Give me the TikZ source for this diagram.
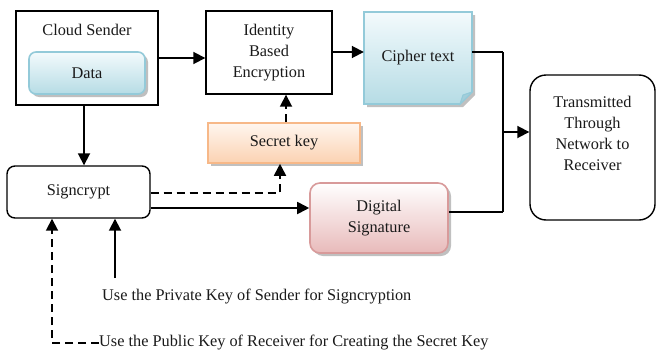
\documentclass[tikz,border=0pt]{standalone}
\usepackage{fontspec}
\setmainfont{Liberation Serif}
\usetikzlibrary{arrows.meta,shadows}

\definecolor{dataline}{HTML}{93CAD9}
\definecolor{datahi}{HTML}{F3FAFC}
\definecolor{datalo}{HTML}{B6DCE5}
\definecolor{cipherfold}{HTML}{A3CEDA}
\definecolor{keyline}{HTML}{F7B888}
\definecolor{keyhi}{HTML}{FFF6EF}
\definecolor{keylo}{HTML}{FBD2B2}
\definecolor{sigline}{HTML}{D89A9A}
\definecolor{sighi}{HTML}{FFFFFF}
\definecolor{siglo}{HTML}{E8BABA}
\definecolor{inkcol}{HTML}{1A1A1A}

\begin{document}
\begin{tikzpicture}[x=1pt,y=-1pt,
  font=\rmfamily\fontsize{16.3}{21}\selectfont, text=inkcol,
  boxshadow/.style={drop shadow={shadow xshift=3pt, shadow yshift=-3pt, fill=black!45, opacity=0.55}},
  plainbox/.style={draw=black, line width=1.4pt, fill=white, inner sep=0pt},
  databox/.style={draw=dataline, line width=1.6pt, rounded corners=7pt,
    top color=datahi, bottom color=datalo, boxshadow, inner sep=0pt},
  keybox/.style={draw=keyline, line width=1.6pt,
    top color=keyhi, bottom color=keylo, boxshadow, inner sep=0pt},
  sigbox/.style={draw=sigline, line width=1.6pt, rounded corners=10pt,
    top color=sighi, bottom color=siglo, boxshadow, inner sep=0pt, align=center},
  roundbox/.style={draw=black, line width=1.4pt, fill=white, inner sep=0pt},
  arr/.style={-{Triangle[length=12pt,width=12pt]}, line width=1.8pt},
  dasharr/.style={arr, dash pattern=on 8pt off 5pt},
  wire/.style={line width=1.8pt}]

\useasboundingbox (0,0) rectangle (658,356);

% Sender side
\node[plainbox, minimum width=142pt, minimum height=94pt] (cloud) at (87,58) {};
\node (cloudlbl) at (87,30) {Cloud Sender};
\node[databox, minimum width=116pt, minimum height=42pt] (data) at (87,73) {Data};

% Encryption
\node[plainbox, minimum width=126pt, minimum height=83pt, align=center] (ibe) at (269,52.5)
  {Identity\\Based\\Encryption};

% Cipher text note with folded corner
\path[draw=dataline, line width=1.6pt, top color=datahi, bottom color=datalo, boxshadow]
  (364,12) -- (472,12) -- (472,92) -- (460,104) -- (364,104) -- cycle;
\path[draw=dataline, line width=1pt, fill=cipherfold] (460,104) -- (463,95) -- (472,92) -- cycle;
\node[minimum width=108pt, minimum height=92pt, inner sep=0pt] (cipher) at (418,58) {Cipher text};

% Secret key
\node[keybox, minimum width=152pt, minimum height=40pt] (secret) at (284,143) {Secret key};

% Signcrypt and signature
\node[roundbox, rounded corners=8pt, minimum width=143pt, minimum height=52pt] (sign) at (78.5,192) {Signcrypt};
\node[sigbox, minimum width=138pt, minimum height=70pt] (digsig) at (379,218) {Digital\\Signature};

% Receiver
\node[roundbox, rounded corners=16pt, minimum width=125pt, minimum height=145pt] (trans) at (592.5,147.5) {};
\node[align=center] (translbl) at (592.5,133.5) {Transmitted\\Through\\Network to\\Receiver};

% Key notes
\node[anchor=west, inner sep=0pt] (privtxt) at (102,297) {Use the Private Key of Sender for Signcryption};
\node[anchor=west, inner sep=0pt] (pubtxt) at (99,343) {Use the Public Key of Receiver for Creating the Secret Key};
\coordinate (privstart) at (115,278);
\coordinate (pubcorner) at (52,343);

% Junction to receiver
\coordinate (jtop) at (503,52);
\coordinate (jbot) at (503,212);
\coordinate (jmid) at (503,132);

% Connectors
\draw[arr] (cloud.east) -- (cloud.east -| ibe.west);
\draw[arr] (ibe.east |- 0,52) -- (cipher.west |- 0,52);
\draw[arr] ([xshift=-3pt]cloud.south) -- ([xshift=-3pt]cloud.south |- sign.north);
\draw[dasharr] ([yshift=-1pt]sign.east) -| ([xshift=-4pt]secret.south);
\draw[dasharr] ([xshift=2pt]secret.north) -- ([xshift=2pt]secret.north |- ibe.south);
\draw[arr] ([yshift=-16pt]sign.east) -- ([yshift=-16pt]sign.east -| digsig.west);
\draw[arr] (privstart) -- (privstart |- sign.south);
\draw[dasharr] (pubtxt.west) -- (pubcorner) -- (pubcorner |- sign.south);

\draw[wire] (cipher.east |- jtop) -- (jtop);
\draw[wire] (digsig.east |- jbot) -- (jbot);
\draw[wire] (jtop) -- (jbot);
\draw[arr] (jmid) -- (jmid -| trans.west);

\end{tikzpicture}
\end{document}
